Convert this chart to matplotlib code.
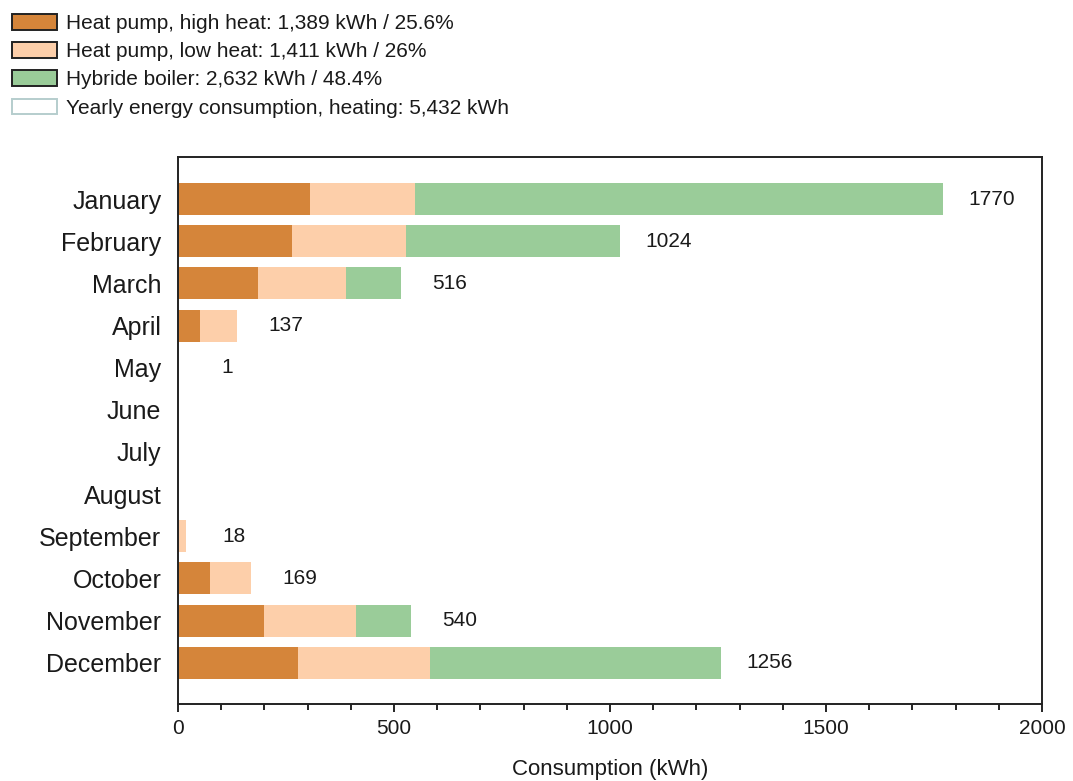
import matplotlib
matplotlib.use("Agg")
import matplotlib.pyplot as plt
from matplotlib.patches import Patch
from matplotlib.ticker import MultipleLocator

plt.rcParams['font.family'] = ['Liberation Sans', 'DejaVu Sans']

months = ["January", "February", "March", "April", "May", "June", "July",
          "August", "September", "October", "November", "December"]
high_heat = [306, 264, 185, 51, 0, 0, 0, 0, 0, 74, 199, 278]
low_heat = [243, 264, 204, 86, 1, 0, 0, 0, 18, 95, 213, 305]
hybrid = [1221, 496, 127, 0, 0, 0, 0, 0, 0, 0, 128, 673]
totals = [1770, 1024, 516, 137, 1, None, None, None, 18, 169, 540, 1256]

legend_labels = [
    "Heat pump, high heat: 1,389 kWh / 25.6%",
    "Heat pump, low heat: 1,411 kWh / 26%",
    "Hybride boiler: 2,632 kWh / 48.4%",
    "Yearly energy consumption, heating: 5,432 kWh",
]

c_high = "#D5853A"
c_low = "#FDCFAA"
c_hyb = "#9ACC99"
txt = "#1a1a1a"

fig = plt.figure(figsize=(10.73, 7.81), dpi=100)
ax = fig.add_axes([0.1659, 0.0986, 0.8052, 0.7004])

y = list(range(len(months)))
h = 0.76
ax.barh(y, high_heat, height=h, color=c_high)
ax.barh(y, low_heat, height=h, left=high_heat, color=c_low)
left3 = [a + b for a, b in zip(high_heat, low_heat)]
ax.barh(y, hybrid, height=h, left=left3, color=c_hyb)

for yi, t in zip(y, totals):
    if t is None:
        continue
    ax.annotate(str(t), xy=(t, yi), xytext=(35, 0), textcoords="offset points",
                ha="center", va="center", fontsize=15, color=txt)

ax.set_xlim(0, 2000)
ax.set_ylim(11.98, -1.0)
ax.set_yticks(y)
ax.set_yticklabels(months, fontsize=18, color=txt)
ax.tick_params(axis="y", length=0, pad=12)
ax.xaxis.set_major_locator(MultipleLocator(500))
ax.xaxis.set_minor_locator(MultipleLocator(100))
ax.tick_params(axis="x", which="major", direction="out", length=6, width=1.2,
               labelsize=15, pad=5, labelcolor=txt)
ax.tick_params(axis="x", which="minor", direction="out", length=4, width=1.2)
ax.set_xlabel("Consumption (kWh)", fontsize=16, labelpad=15, color=txt)
for s in ax.spines.values():
    s.set_linewidth(1.4)
    s.set_color("#222222")

handles = [
    Patch(facecolor=c_high, edgecolor="#222222", linewidth=1.4),
    Patch(facecolor=c_low, edgecolor="#222222", linewidth=1.4),
    Patch(facecolor=c_hyb, edgecolor="#222222", linewidth=1.4),
    Patch(facecolor="white", edgecolor="#B5CDCD", linewidth=1.4),
]
leg = fig.legend(handles, legend_labels, loc="upper left",
                 bbox_to_anchor=(0.0112, 0.982), frameon=False, fontsize=15,
                 handlelength=2.16, handleheight=0.77, handletextpad=0.43,
                 labelspacing=0.44, borderpad=0, borderaxespad=0)
for t in leg.get_texts():
    t.set_color(txt)

fig.savefig("out.png", dpi=100)
